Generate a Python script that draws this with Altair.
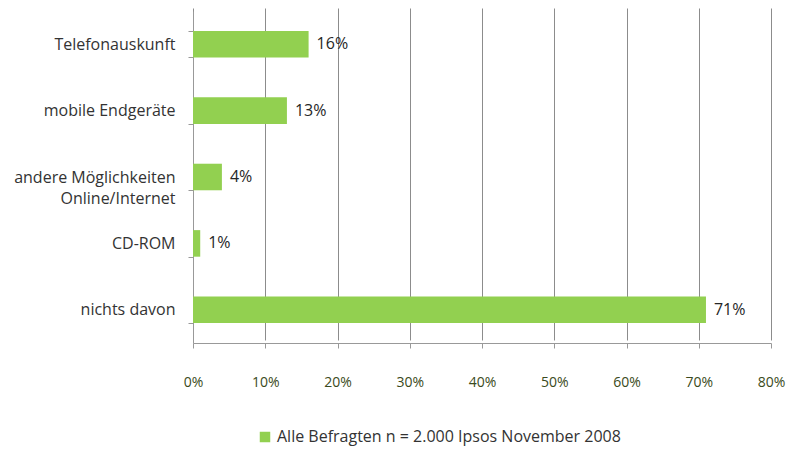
import altair as alt
import pandas as pd

categories = ["Telefonauskunft", "mobile Endgeräte", "andere Möglichkeiten|Online/Internet", "CD-ROM", "nichts davon"]
values = [16, 13, 4, 1, 71]
labels = ["16%", "13%", "4%", "1%", "71%"]
series_name = "Alle Befragten n = 2.000 Ipsos November 2008"

df = pd.DataFrame({
    "cat": categories,
    "val": values,
    "lab": labels,
    "series": [series_name] * len(categories),
})

FONT = "Open Sans"

y_enc = alt.Y(
    "cat:N",
    sort=categories,
    title=None,
    scale=alt.Scale(paddingInner=0.6, paddingOuter=0.3, range=[3, 335]),
    axis=alt.Axis(
        labelExpr="split(datum.label, '|')",
        labelFontSize=16,
        labelColor="#333333",
        labelFont=FONT,
        labelPadding=13,
        labelLineHeight=21,
        labelLimit=0,
        tickBand="extent",
        tickSize=5,
        tickColor="#999999",
        domainColor="#999999",
        grid=False,
    ),
)

x_enc = alt.X(
    "val:Q",
    title=None,
    scale=alt.Scale(domain=[0, 80], nice=False),
    axis=alt.Axis(
        values=[0, 10, 20, 30, 40, 50, 60, 70, 80],
        labelExpr="datum.value + '%'",
        labelFontSize=14,
        labelColor="#3a4a20",
        labelFont=FONT,
        labelPadding=27,
        labelFlush=False,
        labelOverlap=False,
        tickSize=5,
        tickColor="#999999",
        domainColor="#999999",
        grid=True,
        gridColor="#8c8c8c",
        gridWidth=1,
    ),
)

bars = alt.Chart(df).mark_bar(color="#92d050").encode(
    x=x_enc,
    y=y_enc,
    color=alt.Color(
        "series:N",
        scale=alt.Scale(range=["#92d050"]),
        legend=alt.Legend(
            title=None,
            orient="none",
            legendX=64,
            legendY=421,
            symbolType="square",
            symbolSize=110,
            symbolStrokeWidth=0,
            labelFontSize=16,
            labelFont=FONT,
            labelColor="#333333",
            labelLimit=0,
        ),
    ),
)

text = alt.Chart(df).mark_text(
    align="left", baseline="middle", dx=8, fontSize=16, font=FONT, color="#262626"
).encode(
    x="val:Q",
    y=alt.Y("cat:N", sort=categories),
    text="lab:N",
)

chart = (
    alt.layer(bars, text)
    .properties(
        width=578,
        height=335,
        autosize=alt.AutoSizeParams(type="none"),
        padding={"left": 185, "top": 0, "right": 15, "bottom": 106},
    )
    .configure_view(stroke=None)
)

chart.save("out.html", embed_options={"renderer": "svg", "actions": False})
